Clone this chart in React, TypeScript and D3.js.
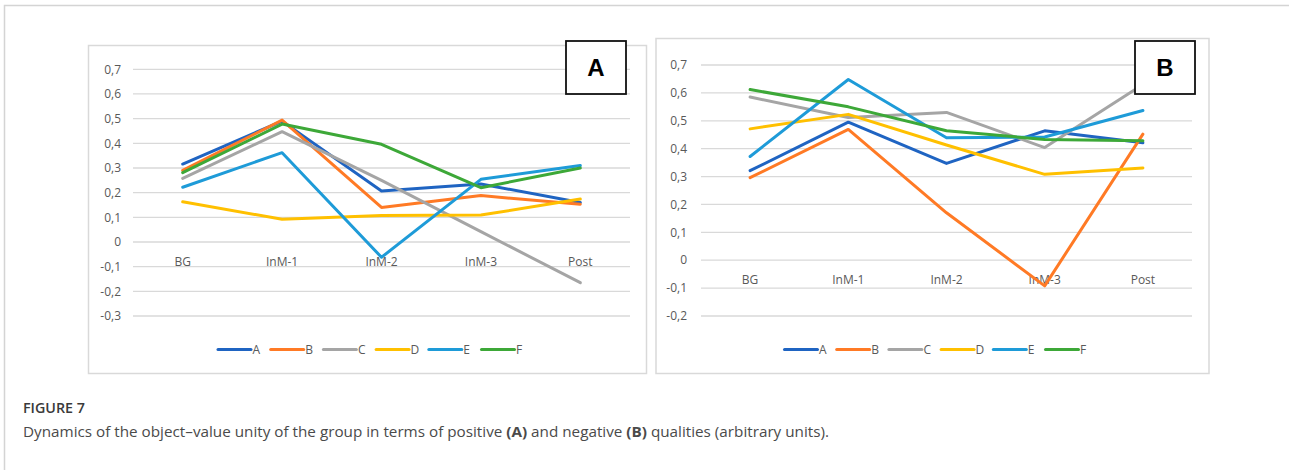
import { useEffect, useRef } from "react";
import * as d3 from "d3";

const categories = ["BG", "InM-1", "InM-2", "InM-3", "Post"];
const seriesNames = ["A", "B", "C", "D", "E", "F"];
const seriesColors = ["#1F64C2", "#FF7A25", "#A5A5A5", "#FFC000", "#1E9BD8", "#3DA838"];

// panel A: positive qualities, one row per series A..F
const positiveValues = [
  [0.316, 0.49, 0.207, 0.235, 0.16],
  [0.29, 0.494, 0.14, 0.188, 0.153],
  [0.258, 0.447, 0.25, 0.042, -0.165],
  [0.163, 0.092, 0.107, 0.109, 0.174],
  [0.222, 0.362, -0.062, 0.254, 0.31],
  [0.281, 0.478, 0.396, 0.22, 0.3],
];

// panel B: negative qualities
const negativeValues = [
  [0.321, 0.495, 0.347, 0.464, 0.421],
  [0.296, 0.469, 0.17, -0.092, 0.452],
  [0.585, 0.512, 0.53, 0.404, 0.63],
  [0.471, 0.523, 0.413, 0.308, 0.331],
  [0.372, 0.648, 0.439, 0.442, 0.537],
  [0.612, 0.55, 0.464, 0.433, 0.428],
];

const ticksA = [-0.3, -0.2, -0.1, 0, 0.1, 0.2, 0.3, 0.4, 0.5, 0.6, 0.7];
const ticksB = [-0.2, -0.1, 0, 0.1, 0.2, 0.3, 0.4, 0.5, 0.6, 0.7];

type PanelConfig = {
  letter: string;
  values: number[][];
  ticks: number[];
  frame: { x0: number; x1: number; y0: number; y1: number };
  plot: { x0: number; x1: number; yTop: number; yBottom: number };
  labelRight: number;
  box: { x: number; y: number; w: number; h: number };
  legendX: number;
  legendStep: number;
};

const panels: PanelConfig[] = [
  {
    letter: "A",
    values: positiveValues,
    ticks: ticksA,
    frame: { x0: 88.5, x1: 646.5, y0: 45.5, y1: 373.5 },
    plot: { x0: 133, x1: 630, yTop: 69.3, yBottom: 316 },
    labelRight: 121,
    box: { x: 566, y: 41, w: 60, h: 53 },
    legendX: 218,
    legendStep: 52.7,
  },
  {
    letter: "B",
    values: negativeValues,
    ticks: ticksB,
    frame: { x0: 656, x1: 1209, y0: 38.5, y1: 373.5 },
    plot: { x0: 701, x1: 1192, yTop: 65, yBottom: 316 },
    labelRight: 687,
    box: { x: 1135, y: 41, w: 60, h: 53 },
    legendX: 784.5,
    legendStep: 52.2,
  },
];

// Excel-style labels: decimal comma, plain hyphen for negatives
const fmt = (v: number) =>
  Math.abs(v) < 1e-9 ? "0" : d3.format(".1f")(v).replace(".", ",").replace("\u2212", "-");

export default function App() {
  const svgRef = useRef<SVGSVGElement | null>(null);

  useEffect(() => {
    document.body.style.margin = "0";
    if (!svgRef.current) return;
    const svg = d3.select(svgRef.current);
    svg.selectAll("*").remove();

    svg.append("rect").attr("width", 1289).attr("height", 470).attr("fill", "#fff");

    // outer figure frame
    svg
      .append("path")
      .attr("d", "M4.5,480 V5.5 H1300")
      .attr("fill", "none")
      .attr("stroke", "#d4d4d4")
      .attr("stroke-width", 1.5);

    const font = "'Open Sans', 'Noto Sans', sans-serif";

    panels.forEach((p) => {
      const g = svg.append("g");

      g.append("rect")
        .attr("x", p.frame.x0)
        .attr("y", p.frame.y0)
        .attr("width", p.frame.x1 - p.frame.x0)
        .attr("height", p.frame.y1 - p.frame.y0)
        .attr("fill", "#fff")
        .attr("stroke", "#d9d9d9")
        .attr("stroke-width", 1.5);

      const x = d3.scaleBand().domain(categories).range([p.plot.x0, p.plot.x1]);
      const y = d3
        .scaleLinear()
        .domain([p.ticks[0], p.ticks[p.ticks.length - 1]])
        .range([p.plot.yBottom, p.plot.yTop]);

      // gridlines
      g.selectAll("line.grid")
        .data(p.ticks)
        .join("line")
        .attr("class", "grid")
        .attr("x1", p.plot.x0)
        .attr("x2", p.plot.x1)
        .attr("y1", (d) => y(d))
        .attr("y2", (d) => y(d))
        .attr("stroke", "#d9d9d9")
        .attr("stroke-width", 1.3);

      // y tick labels
      g.selectAll("text.ytick")
        .data(p.ticks)
        .join("text")
        .attr("class", "ytick")
        .attr("x", p.labelRight)
        .attr("y", (d) => y(d))
        .attr("dy", "0.35em")
        .attr("text-anchor", "end")
        .style("font-family", font)
        .style("font-size", "12px")
        .style("fill", "#595959")
        .text((d) => fmt(d));

      // category labels sit next to the zero line
      g.selectAll("text.xtick")
        .data(categories)
        .join("text")
        .attr("class", "xtick")
        .attr("x", (d) => (x(d) || 0) + x.bandwidth() / 2)
        .attr("y", y(0) + 19.5)
        .attr("dy", "0.35em")
        .attr("text-anchor", "middle")
        .style("font-family", font)
        .style("font-size", "12px")
        .style("fill", "#595959")
        .text((d) => d);

      const line = d3
        .line<number>()
        .x((_, i) => (x(categories[i]) || 0) + x.bandwidth() / 2)
        .y((d) => y(d));

      g.selectAll("path.series")
        .data(p.values)
        .join("path")
        .attr("class", "series")
        .attr("d", (d) => line(d))
        .attr("fill", "none")
        .attr("stroke", (_, i) => seriesColors[i])
        .attr("stroke-width", 3)
        .attr("stroke-linejoin", "round")
        .attr("stroke-linecap", "round");

      // panel letter box
      g.append("rect")
        .attr("x", p.box.x)
        .attr("y", p.box.y)
        .attr("width", p.box.w)
        .attr("height", p.box.h)
        .attr("fill", "#fff")
        .attr("stroke", "#111")
        .attr("stroke-width", 1.8);
      g.append("text")
        .attr("x", p.box.x + p.box.w / 2)
        .attr("y", p.box.y + p.box.h / 2)
        .attr("dy", "0.36em")
        .attr("text-anchor", "middle")
        .style("font-family", "'Liberation Sans', Arial, sans-serif")
        .style("font-weight", "700")
        .style("font-size", "24px")
        .style("fill", "#000")
        .text(p.letter);

      // legend
      const legend = g
        .selectAll("g.legend")
        .data(seriesNames)
        .join("g")
        .attr("class", "legend")
        .attr("transform", (_, i) => `translate(${p.legendX + i * p.legendStep},349.5)`);
      legend
        .append("line")
        .attr("x1", 0)
        .attr("x2", 33)
        .attr("stroke", (_, i) => seriesColors[i])
        .attr("stroke-width", 3)
        .attr("stroke-linecap", "round");
      legend
        .append("text")
        .attr("x", 34.5)
        .attr("dy", "0.35em")
        .style("font-family", font)
        .style("font-size", "12px")
        .style("fill", "#595959")
        .text((d) => d);
    });

    // caption
    svg
      .append("text")
      .attr("x", 23)
      .attr("y", 413)
      .attr("textLength", 62)
      .attr("lengthAdjust", "spacingAndGlyphs")
      .style("font-family", font)
      .style("font-size", "15px")
      .style("font-weight", "600")
      .style("fill", "#3a3a3a")
      .text("FIGURE 7");

    const caption = svg
      .append("text")
      .attr("x", 23)
      .attr("y", 437)
      .attr("textLength", 806)
      .attr("lengthAdjust", "spacingAndGlyphs")
      .style("font-family", font)
      .style("font-size", "14px")
      .style("fill", "#4a4a4a");
    caption.append("tspan").text("Dynamics of the object\u2013value unity of the group in terms of positive ");
    caption.append("tspan").style("font-weight", "700").text("(A)");
    caption.append("tspan").text(" and negative ");
    caption.append("tspan").style("font-weight", "700").text("(B)");
    caption.append("tspan").text(" qualities (arbitrary units).");
  }, []);

  return <svg ref={svgRef} width={1289} height={470} style={{ display: "block" }} />;
}
